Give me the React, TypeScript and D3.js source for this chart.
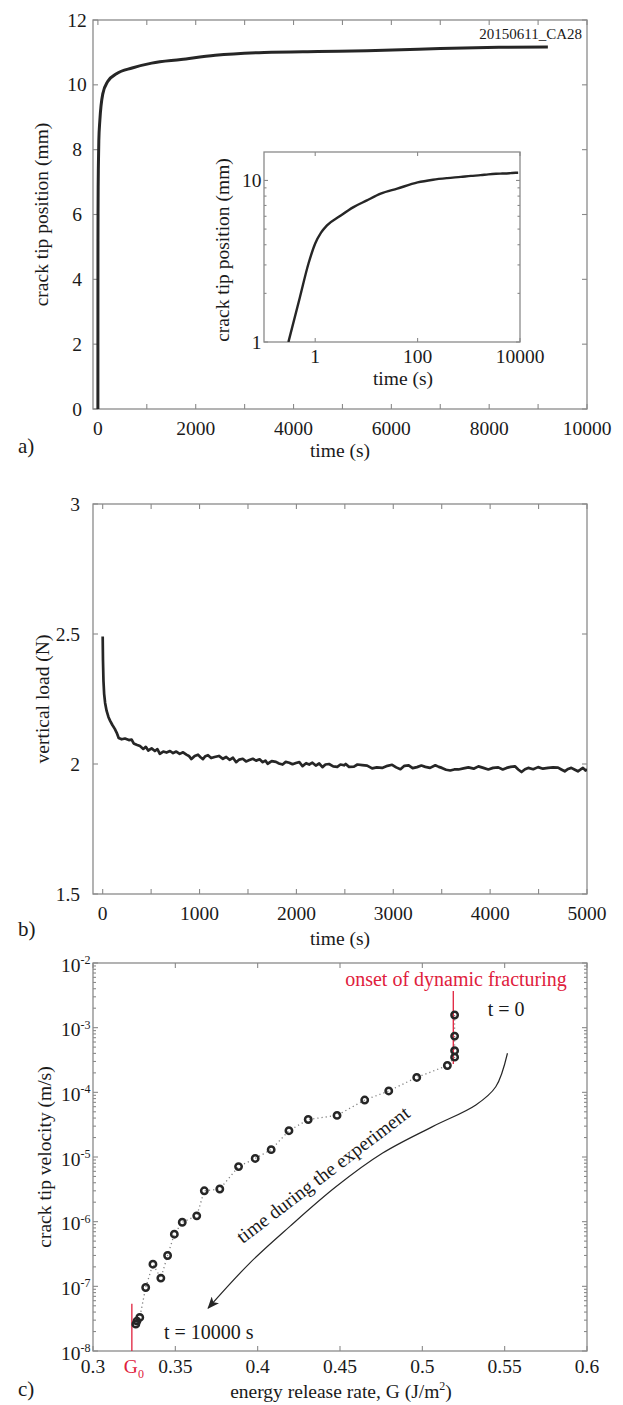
import React from "react";
import * as d3 from "d3";

// ---------- Panel a: crack tip position vs time ----------
const crackTime = [0, 0.3, 0.5, 0.74, 1, 1.3, 1.7, 3, 5.6, 10, 19, 40, 100, 200, 380, 700, 1100, 1700, 2400, 3400, 4500, 5500, 6200, 7000, 8200, 9200];
const crackPos = [0, 1.0, 1.88, 3.06, 4.07, 4.75, 5.27, 6.0, 6.84, 7.5, 8.28, 8.9, 9.72, 10.1, 10.34, 10.52, 10.67, 10.78, 10.91, 11.0, 11.03, 11.05, 11.08, 11.12, 11.16, 11.17];
const aXTicks = [0, 1000, 2000, 3000, 4000, 5000, 6000, 7000, 8000, 9000, 10000];
const aXLabels = [0, 2000, 4000, 6000, 8000, 10000];
const aYTicks = [0, 2, 4, 6, 8, 10, 12];
const insetXTicks = [1, 100, 10000];
const insetYLabels = [1, 10];
const insetYMinor = [2, 3, 4, 5, 6, 7, 8, 9];

// ---------- Panel b: vertical load vs time ----------
const loadTime = [0, 3, 8, 15, 25, 40, 60, 76, 100, 125, 145, 165, 196, 230, 270, 299, 320, 350, 385, 419, 445, 470, 505, 539, 565, 590, 625, 659, 695, 727, 760, 795, 830, 864, 890, 916, 950, 984, 1010, 1035, 1060, 1087, 1120, 1155, 1200, 1241, 1275, 1310, 1345, 1378, 1410, 1446, 1480, 1515, 1550, 1584, 1620, 1652, 1680, 1703, 1745, 1789, 1820, 1857, 1890, 1926, 1960, 1995, 2030, 2063, 2100, 2132, 2165, 2200, 2235, 2269, 2300, 2337, 2380, 2422, 2455, 2491, 2509, 2543, 2594, 2630, 2680, 2730, 2782, 2830, 2885, 2940, 2988, 3030, 3074, 3115, 3159, 3200, 3245, 3290, 3331, 3380, 3434, 3470, 3502, 3545, 3588, 3630, 3673, 3725, 3776, 3830, 3879, 3930, 3981, 4030, 4084, 4130, 4170, 4210, 4256, 4290, 4324, 4360, 4393, 4445, 4495, 4545, 4598, 4650, 4701, 4735, 4770, 4805, 4838, 4870, 4906, 4935, 4958, 4985, 5000];
const loadValue = [2.49, 2.40, 2.32, 2.27, 2.235, 2.205, 2.18, 2.167, 2.15, 2.135, 2.12, 2.10, 2.095, 2.098, 2.092, 2.094, 2.079, 2.074, 2.069, 2.058, 2.066, 2.052, 2.060, 2.050, 2.057, 2.039, 2.048, 2.044, 2.050, 2.042, 2.048, 2.039, 2.045, 2.036, 2.031, 2.019, 2.031, 2.036, 2.026, 2.019, 2.030, 2.034, 2.023, 2.027, 2.031, 2.020, 2.027, 2.016, 2.024, 2.007, 2.017, 2.020, 2.010, 2.015, 2.020, 2.013, 2.018, 2.007, 2.013, 2.001, 2.011, 2.008, 2.002, 1.998, 2.008, 2.005, 1.999, 2.004, 2.007, 1.992, 2.003, 1.998, 2.005, 1.994, 2.002, 1.988, 1.998, 2.000, 1.991, 1.989, 1.998, 1.995, 2.000, 1.989, 1.990, 1.998, 1.996, 1.994, 1.983, 1.987, 1.985, 1.993, 1.997, 1.987, 1.980, 1.993, 1.995, 1.984, 1.988, 1.994, 1.989, 1.985, 1.995, 1.989, 1.985, 1.978, 1.975, 1.979, 1.979, 1.983, 1.987, 1.982, 1.991, 1.985, 1.979, 1.985, 1.987, 1.979, 1.985, 1.989, 1.991, 1.979, 1.969, 1.980, 1.985, 1.980, 1.988, 1.982, 1.985, 1.987, 1.986, 1.979, 1.972, 1.981, 1.985, 1.979, 1.972, 1.979, 1.985, 1.975, 1.980];
const bXTicks = [0, 500, 1000, 1500, 2000, 2500, 3000, 3500, 4000, 4500, 5000];
const bXLabels = [0, 1000, 2000, 3000, 4000, 5000];
const bYTicks = [1.5, 2, 2.5, 3];

// ---------- Panel c: crack tip velocity vs G ----------
const gValues = [0.5196, 0.5196, 0.5196, 0.5196, 0.5152, 0.4966, 0.4796, 0.465, 0.4482, 0.4307, 0.419, 0.4082, 0.3985, 0.3884, 0.377, 0.3676, 0.363, 0.3542, 0.3494, 0.3453, 0.3412, 0.3364, 0.332, 0.3284, 0.3267, 0.326];
const vValues = [1.57e-3, 7.4e-4, 4.4e-4, 3.5e-4, 2.6e-4, 1.7e-4, 1.05e-4, 7.6e-5, 4.4e-5, 3.8e-5, 2.55e-5, 1.3e-5, 9.5e-6, 7.1e-6, 3.2e-6, 3.0e-6, 1.23e-6, 9.8e-7, 6.4e-7, 3.0e-7, 1.34e-7, 2.2e-7, 9.6e-8, 3.3e-8, 2.9e-8, 2.6e-8];
const cXTicks = [0.3, 0.35, 0.4, 0.45, 0.5, 0.55, 0.6];
const cXLabels = ["0.3", "0.35", "0.4", "0.45", "0.5", "0.55", "0.6"];
const cYExponents = [-8, -7, -6, -5, -4, -3, -2];
const arrowG = [0.5517, 0.5446, 0.5325, 0.5062, 0.4759, 0.4477, 0.4194, 0.3952, 0.3699];
const arrowV = [4.02e-4, 1.22e-4, 6.38e-5, 2.95e-5, 1.15e-5, 3.49e-6, 8.39e-7, 2.29e-7, 4.6e-8];
const onsetG = 0.5188;
const onsetV = [3.7e-3, 2.75e-4];
const g0 = 0.3236;
const g0V = [5.4e-8, 1e-8];

const FONT = "'Liberation Serif','Times New Roman',Times,serif";
const TXT = "#1a1a1a";
const AX = "#8a8a8a";
const LINE = "#262626";
const RED = "#e0203c";
const FS = 19.5;

type Lin = (v: number) => number;

function Frame({ x0, x1, y0, y1 }: { x0: number; x1: number; y0: number; y1: number }) {
  return <rect x={x0} y={y0} width={x1 - x0} height={y1 - y0} fill="none" stroke={AX} strokeWidth={1.3} />;
}

function XTicks({ ticks, sx, top, bottom, len = 5 }: { ticks: number[]; sx: Lin; top: number; bottom: number; len?: number }) {
  return (
    <g stroke={AX} strokeWidth={1.1}>
      {ticks.map((t, i) => (
        <g key={i}>
          <line x1={sx(t)} x2={sx(t)} y1={bottom} y2={bottom - len} />
          <line x1={sx(t)} x2={sx(t)} y1={top} y2={top + len} />
        </g>
      ))}
    </g>
  );
}

function YTicks({ ticks, sy, left, right, len = 5 }: { ticks: number[]; sy: Lin; left: number; right: number; len?: number }) {
  return (
    <g stroke={AX} strokeWidth={1.1}>
      {ticks.map((t, i) => (
        <g key={i}>
          <line x1={left} x2={left + len} y1={sy(t)} y2={sy(t)} />
          <line x1={right} x2={right - len} y1={sy(t)} y2={sy(t)} />
        </g>
      ))}
    </g>
  );
}

export default function App() {
  // Panel a scales
  const ax = d3.scaleLinear().domain([-100, 10000]).range([93, 587]);
  const ay = d3.scaleLinear().domain([0, 12]).range([409, 20]);
  const ix = d3.scaleLog().domain([0.1, 10000]).range([264, 520]);
  const iy = d3.scaleLog().domain([1, 15]).range([342, 152]);
  // Panel b
  const bx = d3.scaleLinear().domain([-100, 5000]).range([93, 587]);
  const by = d3.scaleLinear().domain([1.5, 3]).range([894, 504]);
  // Panel c
  const cx = d3.scaleLinear().domain([0.3, 0.6]).range([93, 587]);
  const cy = d3.scaleLog().domain([1e-8, 1e-2]).range([1351, 963]);

  const crackIdx = crackTime.map((_, i) => i);
  const mainPath = d3
    .line<number>()
    .x((i) => ax(crackTime[i]))
    .y((i) => ay(crackPos[i]))
    .curve(d3.curveMonotoneX)(crackIdx) || "";
  const insetIdx = crackIdx.filter((i) => crackTime[i] > 0);
  const insetPath = d3
    .line<number>()
    .x((i) => ix(crackTime[i]))
    .y((i) => iy(crackPos[i]))
    .curve(d3.curveMonotoneX)(insetIdx) || "";

  const loadIdx = loadTime.map((_, i) => i);
  const loadPath = d3.line<number>().x((i) => bx(loadTime[i])).y((i) => by(loadValue[i]))(loadIdx) || "";

  const vIdx = gValues.map((_, i) => i);
  const dotPath = d3.line<number>().x((i) => cx(gValues[i])).y((i) => cy(vValues[i]))(vIdx) || "";
  const arrowPath = d3
    .line<number>()
    .x((i) => cx(arrowG[i]))
    .y((i) => cy(arrowV[i]))
    .curve(d3.curveCatmullRom.alpha(0.5))(arrowG.map((_, i) => i)) || "";

  const cMinor: number[] = [];
  cYExponents.slice(0, -1).forEach((e) => {
    for (let m = 2; m <= 9; m++) cMinor.push(m * Math.pow(10, e));
  });

  const textProps = { fontFamily: FONT, fill: TXT } as const;

  const annG = 0.4421;
  const annV = Math.pow(10, -5.354);

  return (
    <svg
      width={623}
      height={1405}
      viewBox="0 0 623 1405"
      style={{ position: "absolute", left: 0, top: 0, background: "#fff" }}
    >
      <defs>
        <clipPath id="clipB">
          <rect x={93} y={504} width={494} height={390} />
        </clipPath>
        <clipPath id="clipI">
          <rect x={264} y={152} width={256} height={190} />
        </clipPath>
        <marker id="arrowHead" viewBox="0 0 12 10" refX={11} refY={5} markerWidth={12} markerHeight={10} markerUnits="userSpaceOnUse" orient="auto">
          <path d="M0,0 L12,5 L0,10 L3,5 z" fill={LINE} />
        </marker>
      </defs>
      <rect x={0} y={0} width={623} height={1405} fill="#fff" />

      {/* ================= Panel a ================= */}
      <Frame x0={93} x1={587} y0={20} y1={409} />
      <XTicks ticks={aXTicks} sx={ax} top={20} bottom={409} />
      <YTicks ticks={aYTicks} sy={ay} left={93} right={587} />
      <path d={mainPath} fill="none" stroke={LINE} strokeWidth={3} strokeLinejoin="round" />
      {aXLabels.map((t) => (
        <text key={t} x={ax(t)} y={435} fontSize={FS} textAnchor="middle" {...textProps}>{t}</text>
      ))}
      {aYTicks.map((t) => (
        <text key={t} x={77} y={ay(t) + 6.5} fontSize={FS} textAnchor="middle" {...textProps}>{t}</text>
      ))}
      <text x={340} y={457} fontSize={FS} textAnchor="middle" {...textProps}>time (s)</text>
      <text x={41} y={214.5} fontSize={FS} textAnchor="middle" dominantBaseline="central" transform="rotate(-90 41 214.5)" {...textProps}>crack tip position (mm)</text>
      <text x={18} y={453} fontSize={21} {...textProps}>a)</text>
      <text x={582} y={38.5} fontSize={15} textAnchor="end" {...textProps}>20150611_CA28</text>

      {/* inset */}
      <rect x={264} y={152} width={256} height={190} fill="#fff" stroke={AX} strokeWidth={1.3} />
      <XTicks ticks={insetXTicks} sx={ix} top={152} bottom={342} len={4} />
      <YTicks ticks={insetYLabels} sy={iy} left={264} right={520} len={4} />
      <YTicks ticks={insetYMinor} sy={iy} left={264} right={520} len={2.5} />
      <path d={insetPath} fill="none" stroke={LINE} strokeWidth={2.4} clipPath="url(#clipI)" />
      {insetXTicks.map((t) => (
        <text key={t} x={ix(t)} y={363} fontSize={FS} textAnchor="middle" {...textProps}>{t}</text>
      ))}
      {insetYLabels.map((t) => (
        <text key={t} x={261.5} y={iy(t) + 6.5} fontSize={FS} textAnchor="end" {...textProps}>{t}</text>
      ))}
      <text x={403} y={385} fontSize={FS} textAnchor="middle" {...textProps}>time (s)</text>
      <text x={222} y={250} fontSize={FS} textAnchor="middle" dominantBaseline="central" transform="rotate(-90 222 250)" {...textProps}>crack tip position (mm)</text>

      {/* ================= Panel b ================= */}
      <Frame x0={93} x1={587} y0={504} y1={894} />
      <XTicks ticks={bXTicks} sx={bx} top={504} bottom={894} />
      <YTicks ticks={bYTicks} sy={by} left={93} right={587} />
      <path d={loadPath} fill="none" stroke={LINE} strokeWidth={2.7} strokeLinejoin="round" clipPath="url(#clipB)" />
      {bXLabels.map((t) => (
        <text key={t} x={bx(t)} y={920} fontSize={FS} textAnchor="middle" {...textProps}>{t}</text>
      ))}
      {bYTicks.map((t) => (
        <text key={t} x={80} y={by(t) + 6.5} fontSize={FS} textAnchor="end" {...textProps}>{t}</text>
      ))}
      <text x={340} y={945} fontSize={FS} textAnchor="middle" {...textProps}>time (s)</text>
      <text x={42} y={699} fontSize={FS} textAnchor="middle" dominantBaseline="central" transform="rotate(-90 42 699)" {...textProps}>vertical load (N)</text>
      <text x={18} y={936} fontSize={21} {...textProps}>b)</text>

      {/* ================= Panel c ================= */}
      <Frame x0={93} x1={587} y0={963} y1={1351} />
      <XTicks ticks={cXTicks} sx={cx} top={963} bottom={1351} />
      <YTicks ticks={cYExponents.map((e) => Math.pow(10, e))} sy={cy} left={93} right={587} />
      <YTicks ticks={cMinor} sy={cy} left={93} right={587} len={3} />
      {cXTicks.map((t, i) => (
        <text key={t} x={cx(t)} y={1373} fontSize={FS} textAnchor="middle" {...textProps}>{cXLabels[i]}</text>
      ))}
      {cYExponents.map((e) => (
        <g key={e}>
          <text x={80.5} y={cy(Math.pow(10, e)) + 8.5} fontSize={FS} textAnchor="end" {...textProps}>10</text>
          <text x={80.5} y={cy(Math.pow(10, e)) + 1} fontSize={12} textAnchor="start" {...textProps}>{`-${-e}`}</text>
        </g>
      ))}
      <text x={341} y={1398} fontSize={FS} textAnchor="middle" {...textProps}>
        energy release rate, G (J/m<tspan fontSize={12} dy={-8}>2</tspan><tspan dy={8}>)</tspan>
      </text>
      <text x={44} y={1157} fontSize={FS} textAnchor="middle" dominantBaseline="central" transform="rotate(-90 44 1157)" {...textProps}>crack tip velocity (m/s)</text>
      <text x={18} y={1395.5} fontSize={21} {...textProps}>c)</text>

      {/* red markers */}
      <line x1={cx(onsetG)} x2={cx(onsetG)} y1={cy(onsetV[0])} y2={cy(onsetV[1])} stroke={RED} strokeWidth={1.3} />
      <line x1={cx(g0)} x2={cx(g0)} y1={cy(g0V[0])} y2={cy(g0V[1])} stroke={RED} strokeWidth={1.3} />
      <text x={456} y={cy(Math.pow(10, -2.26)) + 6.5} fontSize={20} textAnchor="middle" fontFamily={FONT} fill={RED}>onset of dynamic fracturing</text>
      <text x={cx(g0) + 2} y={1373} fontSize={FS} textAnchor="middle" fontFamily={FONT} fill={RED}>
        G<tspan fontSize={12} dy={5}>0</tspan>
      </text>

      {/* data */}
      <path d={dotPath} fill="none" stroke="#808080" strokeWidth={1.3} strokeDasharray="1.2 3" />
      {vIdx.map((i) => (
        <circle key={i} cx={cx(gValues[i])} cy={cy(vValues[i])} r={3.2} fill="none" stroke={LINE} strokeWidth={2.5} />
      ))}

      {/* annotation arrow */}
      <path d={arrowPath} fill="none" stroke={LINE} strokeWidth={1.2} markerEnd="url(#arrowHead)" />
      <text
        x={cx(annG)}
        y={cy(annV)}
        fontSize={FS}
        textAnchor="middle"
        transform={`rotate(-37.3 ${cx(annG)} ${cy(annV)})`}
        {...textProps}
      >
        time during the experiment
      </text>
      <text x={cx(0.5509)} y={cy(Math.pow(10, -2.726)) + 6.5} fontSize={20} textAnchor="middle" {...textProps}>t = 0</text>
      <text x={cx(0.3703)} y={cy(Math.pow(10, -7.72)) + 6.5} fontSize={20} textAnchor="middle" {...textProps}>t = 10000 s</text>
    </svg>
  );
}
